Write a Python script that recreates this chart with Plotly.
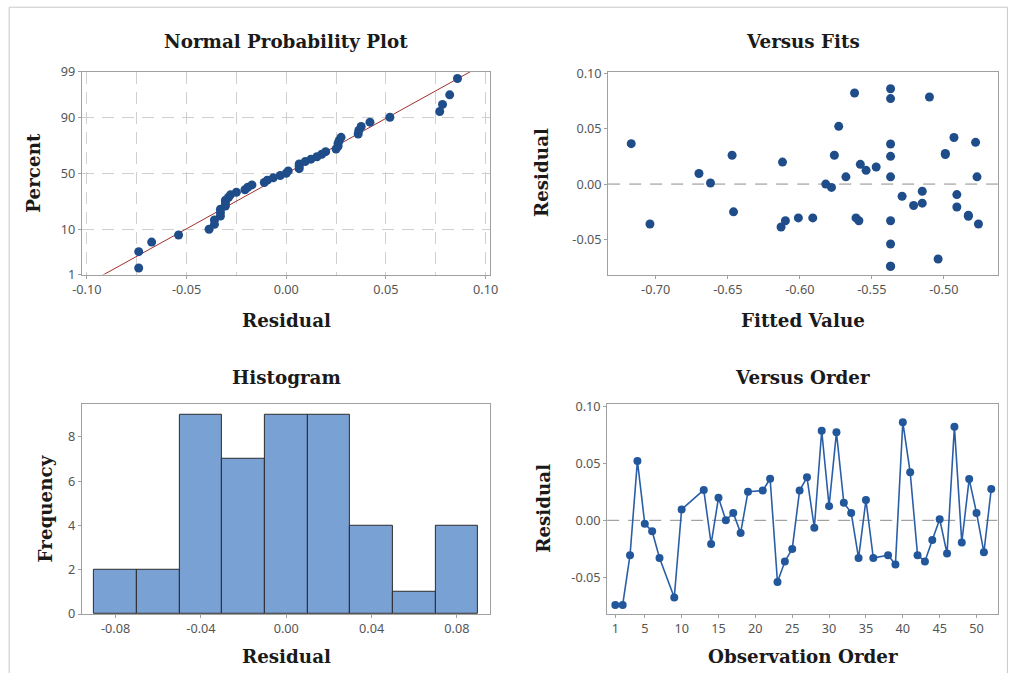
import numpy as np
import plotly.graph_objects as go
from statistics import NormalDist

# Figure size, plus the page-to-figure mapping used to place every panel:
# the page is captured with an 8px body margin and rescaled to 1017x681.
W, H = 1017, 681
PAD = 8
SX = (W + 2 * PAD) / W
SY = (H + 2 * PAD) / H

# Residuals in observation order (gaps are runs without a residual)
obs_order = [1, 2, 3, 4, 5, 6, 7, 9, 10, 13, 14, 15, 16, 17, 18, 19, 21, 22, 23, 24,
             25, 26, 27, 28, 29, 30, 31, 32, 33, 34, 35, 36, 38, 39, 40, 41, 42, 43,
             44, 45, 46, 47, 48, 49, 50, 51, 52]
residuals = [-0.074, -0.074, -0.0305, 0.052, -0.003, -0.0095, -0.033, -0.0675, 0.0095,
             0.0266, -0.0207, 0.0198, 0.000, 0.0065, -0.011, 0.025, 0.026, 0.0364,
             -0.054, -0.036, -0.025, 0.026, 0.0376, -0.0065, 0.0784, 0.0124, 0.077,
             0.0154, 0.0065, -0.033, 0.0178, -0.033, -0.0305, -0.0387, 0.0859, 0.042,
             -0.0305, -0.036, -0.0172, 0.001, -0.029, 0.082, -0.0193, 0.0361, 0.0065,
             -0.028, 0.0275]
fitted = [-0.537, -0.537, -0.601, -0.573, -0.578, -0.491, -0.537, -0.504, -0.670,
          -0.499, -0.491, -0.612, -0.582, -0.568, -0.529, -0.537, -0.576, -0.717,
          -0.537, -0.704, -0.646, -0.647, -0.478, -0.515, -0.510, -0.554, -0.537,
          -0.547, -0.537, -0.559, -0.558, -0.610, -0.591, -0.613, -0.537, -0.493,
          -0.561, -0.476, -0.515, -0.662, -0.483, -0.562, -0.521, -0.537, -0.477,
          -0.483, -0.499]

pct_ticks = [1, 10, 50, 90, 99]
npp_x_ticks = [-0.10, -0.05, 0.00, 0.05, 0.10]
fits_x_ticks = [-0.70, -0.65, -0.60, -0.55, -0.50]
resid_y_ticks = [-0.05, 0.00, 0.05, 0.10]
hist_x_ticks = [-0.08, -0.04, 0.00, 0.04, 0.08]
hist_y_ticks = [0, 2, 4, 6, 8]
order_x_ticks = [1, 5, 10, 15, 20, 25, 30, 35, 40, 45, 50]

nd = NormalDist()
res = np.array(residuals)
n = len(res)
sorted_res = np.sort(res)
z_pos = np.array([nd.inv_cdf((i - 0.3) / (n + 0.4)) for i in range(1, n + 1)])
mu, sd = res.mean(), res.std(ddof=1)
z_line = np.array([-2.6, 2.6])
x_line = mu + sd * z_line

DOT = "#1f4d8a"
BLUE_LINE = "#2a5fa8"
BORDER = "#a0a0a0"
GRID = "#cfcfcf"
TICKFONT = dict(family="Noto Sans, Open Sans, sans-serif", size=12.7, color="#555555")
SERIF = "DejaVu Serif, Liberation Serif, serif"


def px_x(x):
    return (x * SX - PAD) / W


def px_y(y):
    return 1 - (y * SY - PAD) / H


def dom_x(a, b):
    return [px_x(a), px_x(b)]


def dom_y(top, bottom):
    return [px_y(bottom), px_y(top)]


fig = go.Figure()

# Normal probability plot
fig.add_trace(go.Scatter(x=x_line, y=z_line, mode="lines", xaxis="x", yaxis="y",
                         line=dict(color="#a3302b", width=1), showlegend=False))
fig.add_trace(go.Scatter(x=sorted_res, y=z_pos, mode="markers", xaxis="x", yaxis="y",
                         marker=dict(color=DOT, size=9), showlegend=False))

# Versus fits
fig.add_trace(go.Scatter(x=fitted, y=residuals, mode="markers", xaxis="x2", yaxis="y2",
                         marker=dict(color=DOT, size=9), showlegend=False))

# Histogram
fig.add_trace(go.Histogram(x=residuals, xaxis="x3", yaxis="y3",
                           xbins=dict(start=-0.09, end=0.09, size=0.02),
                           marker=dict(color="#7aa1d4", line=dict(color="#2b2b2b", width=1)),
                           showlegend=False))

# Versus order
fig.add_trace(go.Scatter(x=obs_order, y=residuals, mode="lines+markers", xaxis="x4", yaxis="y4",
                         line=dict(color=BLUE_LINE, width=1.6),
                         marker=dict(color="#22579c", size=8), showlegend=False))

axis_common = dict(showline=True, linecolor=BORDER, linewidth=1, mirror=True,
                   ticks="outside", ticklen=3, tickcolor=BORDER, tickfont=TICKFONT,
                   zeroline=False, showgrid=False)
axis_grid = {k: v for k, v in axis_common.items() if k != "showgrid"}

zero_line = dict(type="line", line=dict(color="#8c8c8c", width=1, dash="12px,9px"))

fig.update_layout(
    width=W, height=H, margin=dict(l=0, r=0, t=0, b=0),
    paper_bgcolor="white", plot_bgcolor="white", bargap=0,
    xaxis=dict(domain=dom_x(80, 489), range=[-0.1025, 0.102], anchor="y",
               tickvals=npp_x_ticks, ticktext=[f"{v:.2f}" for v in npp_x_ticks],
               showgrid=True, gridcolor=GRID, griddash="12px,8px",
               minor=dict(dtick=0.025, tick0=0, showgrid=True, gridcolor=GRID, griddash="12px,8px"),
               **axis_grid),
    yaxis=dict(domain=dom_y(70, 273.3), range=[nd.inv_cdf(0.01), nd.inv_cdf(0.99)], anchor="x",
               tickvals=[nd.inv_cdf(p / 100) for p in pct_ticks],
               ticktext=[str(p) for p in pct_ticks],
               showgrid=True, gridcolor=GRID, griddash="12px,8px", **axis_grid),
    xaxis2=dict(domain=dom_x(608, 999), range=[-0.733, -0.4625], anchor="y2",
                tickvals=fits_x_ticks, ticktext=[f"{v:.2f}" for v in fits_x_ticks], **axis_common),
    yaxis2=dict(domain=dom_y(70, 273.3), range=[-0.0815, 0.101], anchor="x2",
                tickvals=resid_y_ticks, ticktext=[f"{v:.2f}" for v in resid_y_ticks], **axis_common),
    xaxis3=dict(domain=dom_x(80, 489), range=[-0.0958, 0.0953], anchor="y3",
                tickvals=hist_x_ticks, ticktext=[f"{v:.2f}" for v in hist_x_ticks], **axis_common),
    yaxis3=dict(domain=dom_y(403, 614), range=[0, 9.5], anchor="x3",
                tickvals=hist_y_ticks, **axis_common),
    xaxis4=dict(domain=dom_x(607, 999), range=[-0.1, 52.9], anchor="y4",
                tickvals=order_x_ticks, **axis_common),
    yaxis4=dict(domain=dom_y(403, 614), range=[-0.082, 0.102], anchor="x4",
                tickvals=resid_y_ticks, ticktext=[f"{v:.2f}" for v in resid_y_ticks], **axis_common),
)

# Dashed zero reference lines
fig.add_shape(xref="x2 domain", yref="y2", x0=0, x1=1, y0=0, y1=0, **zero_line, layer="below")
fig.add_shape(xref="x4 domain", yref="y4", x0=0, x1=1, y0=0, y1=0, **zero_line, layer="below")

# Outer frame (left, top, right)
frame = dict(color="#c8c8c8", width=1)
fx0, fx1, fy0 = px_x(7), min(px_x(1009), 1 - 0.6 / W), px_y(5)
fig.add_shape(type="line", xref="paper", yref="paper", x0=fx0, x1=fx0, y0=0, y1=fy0, line=frame)
fig.add_shape(type="line", xref="paper", yref="paper", x0=fx0, x1=fx1, y0=fy0, y1=fy0, line=frame)
fig.add_shape(type="line", xref="paper", yref="paper", x0=fx1, x1=fx1, y0=0, y1=fy0, line=frame)


def label(text, px, py, size=18.3, angle=0):
    fig.add_annotation(text=f"<b>{text}</b>", x=px_x(px), y=px_y(py), xref="paper", yref="paper",
                       showarrow=False, xanchor="center", yanchor="middle", textangle=angle,
                       font=dict(family=SERIF, size=size, color="#1a1a1a"))


label("Normal Probability Plot", 285, 39)
label("Versus Fits", 803, 39)
label("Histogram", 285, 377)
label("Versus Order", 803, 377)

label("Residual", 285, 319)
label("Fitted Value", 803, 319)
label("Residual", 285, 657)
label("Observation Order", 803, 657)

label("Percent", 32, 171, angle=-90)
label("Residual", 541, 171, angle=-90)
label("Frequency", 43, 508, angle=-90)
label("Residual", 543, 508, angle=-90)

fig.write_html("out.html")
